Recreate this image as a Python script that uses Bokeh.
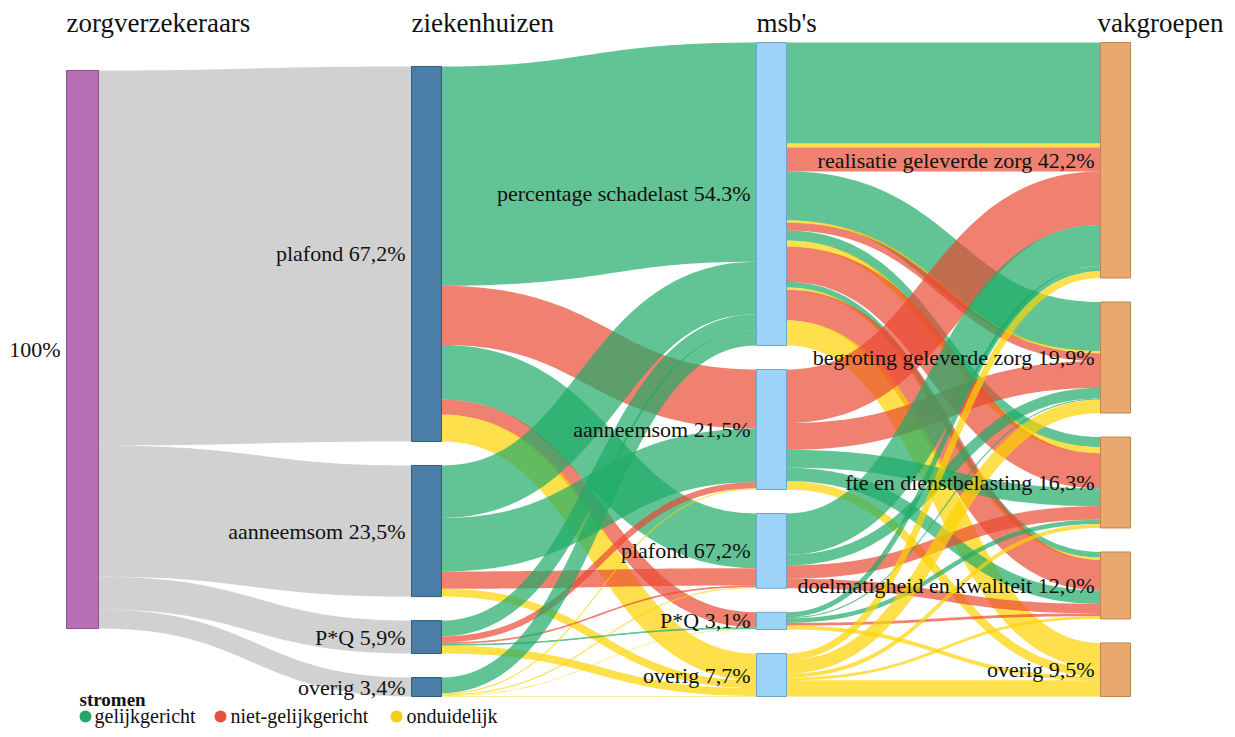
import numpy as np
from bokeh.plotting import figure
from bokeh.models import Range1d
from bokeh.core.properties import value
from bokeh.embed import file_html
from bokeh.resources import INLINE

# ---------------- data ----------------
col_titles = ["zorgverzekeraars", "ziekenhuizen", "msb's", "vakgroepen"]

zv_labels = ["100%"]

zh_labels = ["plafond 67,2%", "aanneemsom 23,5%", "P*Q 5,9%", "overig 3,4%"]
zh_values = [67.2, 23.5, 5.9, 3.4]

msb_labels = ["percentage schadelast 54.3%", "aanneemsom 21,5%", "plafond 67,2%",
              "P*Q 3,1%", "overig 7,7%"]

vg_labels = ["realisatie geleverde zorg 42,2%", "begroting geleverde zorg 19,9%",
             "fte en dienstbelasting 16,3%", "doelmatigheid en kwaliteit 12,0%",
             "overig 9,5%"]

type_names = ["gelijkgericht", "niet-gelijkgericht", "onduidelijk"]

# ziekenhuizen -> msb's  (source idx, target idx, value %, type idx)
zh_msb_src = [0, 0, 0, 0, 0,   1, 1, 1, 1,   2, 2, 2, 2, 2,   3, 3, 3, 3, 3]
zh_msb_tgt = [0, 1, 2, 3, 4,   0, 1, 2, 4,   0, 1, 2, 3, 4,   0, 1, 2, 3, 4]
zh_msb_val = [39.3, 10.6, 9.8, 2.7, 4.8,
              9.4, 9.6, 3.1, 1.4,
              2.8, 1.1, 0.3, 0.3, 1.4,
              2.8, 0.2, 0.2, 0.1, 0.1]
zh_msb_typ = [0, 1, 0, 1, 2,
              0, 0, 1, 2,
              0, 1, 1, 0, 2,
              0, 2, 2, 2, 2]

# msb's -> vakgroepen
msb_vg_src = [0, 0, 0, 0, 0, 0, 0, 0, 0, 0, 0, 0, 0,
              1, 1, 1, 1, 1,
              2, 2, 2, 2,
              3, 3, 3, 3, 3,
              4, 4, 4, 4, 4]
msb_vg_tgt = [0, 0, 0, 1, 1, 1, 2, 2, 2, 3, 3, 3, 4,
              0, 1, 2, 3, 4,
              0, 1, 2, 3,
              0, 1, 2, 3, 4,
              0, 1, 2, 3, 4]
msb_vg_val = [18.1, 0.7, 4.3, 8.8, 0.4, 1.4, 1.8, 1.1, 6.3, 1.0, 0.4, 5.5, 4.5,
              9.6, 4.8, 3.2, 2.4, 1.5,
              7.4, 1.9, 2.4, 1.7,
              0.9, 0.2, 0.8, 0.5, 0.7,
              1.2, 2.4, 0.7, 0.5, 2.9]
msb_vg_typ = [0, 2, 1, 0, 2, 1, 0, 2, 1, 0, 2, 1, 2,
              1, 1, 0, 0, 2,
              0, 0, 1, 1,
              0, 0, 0, 1, 2,
              2, 2, 2, 2, 2]

# ---------------- styles / layout ----------------
type_link_colors = ["#20ab68", "#e94a33", "#fcd300"]
type_dot_colors = ["#25a567", "#e8503a", "#f8cc10"]
node_fill = ["#b96fb6", "#4a7ea6", "#9dd3f6", "#e9a86e"]
node_line = ["#8f4f8c", "#2f5c80", "#6fa6c8", "#c0864f"]
gray_link = "#bbbbbb"

K = 5.58          # px per percent
GAP = 24
BOTTOM = 696
COL_X = [66, 411, 756, 1100]
NODE_W = [32, 30, 30, 30]
COL1_TOP = 70
FONT = value("Liberation Serif")
W, H = 1229, 729


def stack(vals, top=None):
    total = sum(vals) * K + GAP * (len(vals) - 1)
    y = top if top is not None else BOTTOM - total
    out = []
    for v in vals:
        out.append([y, y + v * K])
        y += v * K + GAP
    return out


def sums(idx, vals, n):
    s = [0.0] * n
    for i, v in zip(idx, vals):
        s[i] += v
    return s


zv_vals = [sum(zh_values)]
msb_vals = sums(zh_msb_tgt, zh_msb_val, len(msb_labels))
vg_vals = sums(msb_vg_tgt, msb_vg_val, len(vg_labels))

cols_vals = [zv_vals, zh_values, msb_vals, vg_vals]
cols_labels = [zv_labels, zh_labels, msb_labels, vg_labels]
cols_pos = [stack(zv_vals, COL1_TOP), stack(zh_values), stack(msb_vals), stack(vg_vals)]


def band(x0, y0, x1, y1, w, n=70):
    t = np.linspace(0, 1, n)
    xm = (x0 + x1) / 2
    px = (1 - t) ** 3 * x0 + 3 * (1 - t) ** 2 * t * xm + 3 * (1 - t) * t ** 2 * xm + t ** 3 * x1
    py = (1 - t) ** 3 * y0 + 3 * (1 - t) ** 2 * t * y0 + 3 * (1 - t) * t ** 2 * y1 + t ** 3 * y1
    dx = 3 * (1 - t) ** 2 * (xm - x0) + 3 * t ** 2 * (x1 - xm)
    dy = 6 * (1 - t) * t * (y1 - y0)
    L = np.hypot(dx, dy)
    nx, ny = -dy / L, dx / L
    h = w / 2
    xs = list(px + nx * h) + list((px - nx * h)[::-1])
    ys = list(py + ny * h) + list((py - ny * h)[::-1])
    return xs, ys


def links(ci, src, tgt, val):
    """compute link geometry between column ci and ci+1"""
    spos = cols_pos[ci]
    tpos = cols_pos[ci + 1]
    n = len(src)
    s_off = [p[0] for p in spos]
    t_off = [p[0] for p in tpos]
    s_y = [0] * n
    t_y = [0] * n
    for i in sorted(range(n), key=lambda i: (src[i], tgt[i], i)):
        s_y[i] = s_off[src[i]]
        s_off[src[i]] += val[i] * K
    for i in sorted(range(n), key=lambda i: (tgt[i], src[i], i)):
        t_y[i] = t_off[tgt[i]]
        t_off[tgt[i]] += val[i] * K
    x0 = COL_X[ci] + NODE_W[ci]
    x1 = COL_X[ci + 1]
    XS, YS = [], []
    for i in range(n):
        w = val[i] * K
        xs, ys = band(x0, s_y[i] + w / 2, x1, t_y[i] + w / 2, w)
        XS.append(xs)
        YS.append(ys)
    return XS, YS


p = figure(width=W, height=H, x_range=Range1d(0, W), y_range=Range1d(H, 0),
           output_backend="svg", toolbar_location=None, min_border=0,
           x_axis_location=None, y_axis_location=None)
p.grid.visible = False
p.outline_line_color = None
p.background_fill_color = "white"

# gray links zorgverzekeraars -> ziekenhuizen
g_src = [0] * len(zh_values)
g_tgt = list(range(len(zh_values)))
xs, ys = links(0, g_src, g_tgt, zh_values)
p.patches(xs, ys, fill_color=gray_link, fill_alpha=0.68, line_color=None)

# coloured links
xs, ys = links(1, zh_msb_src, zh_msb_tgt, zh_msb_val)
p.patches(xs, ys, fill_color=[type_link_colors[t] for t in zh_msb_typ],
          fill_alpha=0.7, line_color=None)
xs, ys = links(2, msb_vg_src, msb_vg_tgt, msb_vg_val)
p.patches(xs, ys, fill_color=[type_link_colors[t] for t in msb_vg_typ],
          fill_alpha=0.7, line_color=None)

# nodes and labels
for ci in range(4):
    pos = cols_pos[ci]
    p.quad(left=[COL_X[ci]] * len(pos), right=[COL_X[ci] + NODE_W[ci]] * len(pos),
           top=[a for a, b in pos], bottom=[b for a, b in pos],
           fill_color=node_fill[ci], line_color=node_line[ci], line_width=1)
    p.text(x=[COL_X[ci] - 6] * len(pos), y=[(a + b) / 2 for a, b in pos],
           text=cols_labels[ci], text_align="right", text_baseline="middle",
           text_font=FONT, text_font_size="22px", text_color="#111111")

# column titles
p.text(x=[COL_X[0], COL_X[1], COL_X[2], COL_X[3] - 3], y=[22] * 4, text=col_titles,
       text_align="left", text_baseline="middle", text_font=FONT,
       text_font_size="27px", text_color="#111111")

# legend
p.text(x=[79], y=[699], text=["stromen"], text_align="left", text_baseline="middle",
       text_font=FONT, text_font_size="19px", text_font_style="bold", text_color="#111111")
p.scatter(x=[85, 220, 396], y=[716] * 3, marker="circle", size=12,
          fill_color=type_dot_colors, line_color=None)
p.text(x=[94, 230, 406], y=[715] * 3, text=type_names, text_align="left",
       text_baseline="middle", text_font=FONT, text_font_size="20px", text_color="#111111")

open("out.html", "w").write(file_html(p, INLINE))
